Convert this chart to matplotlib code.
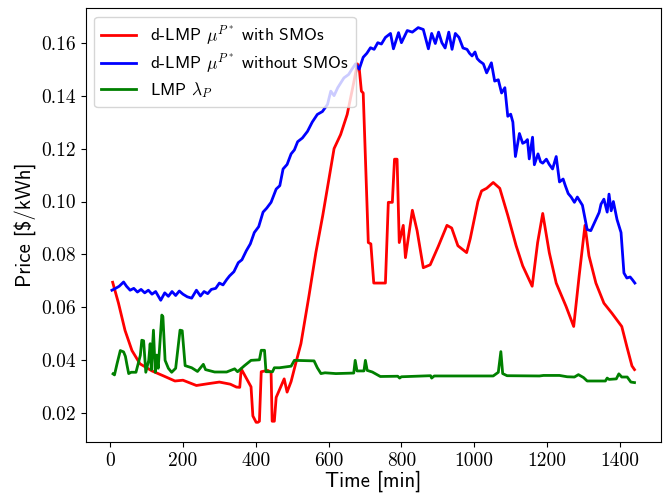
import numpy as np
import matplotlib
matplotlib.use("Agg")
from matplotlib import pyplot as plt

plt.rcParams['font.family'] = ['cmss10', 'DejaVu Sans']
plt.rcParams['mathtext.fontset'] = 'cm'
plt.rcParams['axes.unicode_minus'] = False

# d-LMP with SMOs (red)
t_smo = [7, 23, 41, 60, 82, 115, 147, 178, 200, 237, 270, 300, 330, 347, 356,
         360, 387, 392, 401, 406, 410, 415, 433, 442, 445, 451, 456, 478, 486,
         497, 510, 524, 546, 565, 584, 601, 615, 633, 651, 666, 679, 684, 690,
         695, 709, 716, 724, 756, 764, 775, 781, 788, 794, 805, 811, 830, 843,
         860, 879, 901, 925, 938, 955, 979, 989, 1010, 1020, 1034, 1052, 1070,
         1092, 1115, 1133, 1159, 1174, 1188, 1206, 1225, 1252, 1273, 1288, 1304,
         1315, 1334, 1356, 1378, 1405, 1419, 1433, 1440]
p_smo = [0.0695, 0.0616, 0.0513, 0.0437, 0.0387, 0.0360, 0.0341, 0.0322, 0.0325,
         0.0305, 0.0312, 0.0318, 0.0310, 0.0299, 0.0298, 0.0368, 0.0300, 0.0190,
         0.0166, 0.0166, 0.0170, 0.0357, 0.0362, 0.0355, 0.0170, 0.0170, 0.0260,
         0.0330, 0.0280, 0.0320, 0.0390, 0.0463, 0.0643, 0.0807, 0.0948, 0.1086,
         0.1200, 0.1253, 0.1329, 0.1429, 0.1520, 0.1505, 0.1417, 0.1410, 0.0845,
         0.0840, 0.0692, 0.0692, 0.0997, 0.0997, 0.1160, 0.1160, 0.0845, 0.0910,
         0.0788, 0.0967, 0.0890, 0.0750, 0.0761, 0.0830, 0.0910, 0.0900, 0.0833,
         0.0807, 0.0860, 0.1000, 0.1040, 0.1050, 0.1072, 0.1050, 0.0948, 0.0833,
         0.0757, 0.0680, 0.0845, 0.0955, 0.0807, 0.0692, 0.0604, 0.0528, 0.0719,
         0.0910, 0.0795, 0.0692, 0.0616, 0.0578, 0.0528, 0.0452, 0.0379, 0.0365]

# d-LMP without SMOs (blue)
t_no = [5, 15, 25, 37, 45, 55, 65, 75, 85, 95, 105, 115, 125, 139, 150, 160, 170,
        180, 190, 200, 212, 224, 237, 248, 258, 268, 278, 290, 300, 310, 320, 328,
        340, 352, 362, 374, 385, 396, 408, 420, 430, 442, 456, 466, 475, 486, 497,
        506, 515, 528, 542, 555, 569, 583, 597, 606, 615, 625, 642, 655, 664, 674,
        684, 695, 705, 715, 725, 735, 745, 756, 770, 778, 792, 800, 816, 830, 846,
        860, 874, 883, 893, 902, 911, 920, 930, 939, 948, 958, 969, 980, 987, 994,
        1002, 1008, 1015, 1025, 1034, 1047, 1056, 1066, 1075, 1084, 1092, 1100,
        1106, 1113, 1118, 1124, 1133, 1140, 1146, 1151, 1160, 1165, 1175, 1182,
        1188, 1198, 1206, 1215, 1225, 1234, 1244, 1250, 1258, 1266, 1275, 1283,
        1297, 1310, 1320, 1330, 1343, 1348, 1356, 1365, 1370, 1376, 1382, 1392,
        1403, 1411, 1419, 1428, 1434, 1441]
p_no = [0.0665, 0.0672, 0.0680, 0.0696, 0.0680, 0.0665, 0.0672, 0.0658, 0.0668,
        0.0655, 0.0665, 0.0650, 0.0660, 0.0627, 0.0655, 0.0642, 0.0660, 0.0645,
        0.0662, 0.0650, 0.0640, 0.0635, 0.0665, 0.0643, 0.0660, 0.0652, 0.0668,
        0.0672, 0.0692, 0.0685, 0.0705, 0.0719, 0.0735, 0.0769, 0.0780, 0.0814,
        0.0840, 0.0883, 0.0905, 0.0960, 0.0975, 0.0997, 0.1047, 0.1060, 0.1123,
        0.1140, 0.1180, 0.1195, 0.1226, 0.1240, 0.1265, 0.1300, 0.1329, 0.1340,
        0.1367, 0.1417, 0.1400, 0.1430, 0.1467, 0.1480, 0.1500, 0.1520, 0.1500,
        0.1545, 0.1560, 0.1581, 0.1575, 0.1600, 0.1595, 0.1620, 0.1635, 0.1577,
        0.1638, 0.1600, 0.1646, 0.1640, 0.1657, 0.1650, 0.1577, 0.1635, 0.1597,
        0.1640, 0.1600, 0.1580, 0.1640, 0.1575, 0.1635, 0.1620, 0.1580, 0.1575,
        0.1560, 0.1550, 0.1565, 0.1540, 0.1530, 0.1520, 0.1486, 0.1524, 0.1455,
        0.1460, 0.1410, 0.1430, 0.1322, 0.1330, 0.1300, 0.1170, 0.1210, 0.1257,
        0.1220, 0.1225, 0.1234, 0.1161, 0.1243, 0.1139, 0.1180, 0.1150, 0.1145,
        0.1160, 0.1140, 0.1123, 0.1170, 0.1074, 0.1085, 0.1060, 0.1030, 0.1017,
        0.0997, 0.1017, 0.0986, 0.0894, 0.0890, 0.0920, 0.0959, 0.0990, 0.1009,
        0.0960, 0.1028, 0.0965, 0.1000, 0.0932, 0.0883, 0.0730, 0.0711, 0.0715,
        0.0705, 0.0692]

# LMP (green)
t_lmp = [8, 12, 19, 28, 37, 42, 46, 51, 58, 71, 83, 87, 92, 98, 106, 110, 113,
         119, 124, 128, 132, 142, 145, 151, 160, 169, 180, 192, 198, 206, 224,
         240, 256, 262, 287, 320, 342, 350, 369, 387, 410, 415, 424, 428, 446,
         451, 465, 497, 506, 560, 569, 579, 590, 620, 669, 673, 678, 697, 701,
         706, 720, 742, 790, 795, 800, 880, 883, 890, 1000, 1052, 1066, 1073,
         1078, 1090, 1179, 1190, 1234, 1255, 1275, 1286, 1300, 1310, 1360, 1365,
         1370, 1390, 1397, 1405, 1420, 1430, 1440]
p_lmp = [0.0349, 0.0345, 0.0387, 0.0437, 0.0432, 0.0415, 0.0385, 0.0350, 0.0355,
         0.0355, 0.0419, 0.0476, 0.0474, 0.0355, 0.0400, 0.0463, 0.0365, 0.0514,
         0.0355, 0.0420, 0.0370, 0.0571, 0.0565, 0.0400, 0.0370, 0.0355, 0.0370,
         0.0514, 0.0512, 0.0380, 0.0372, 0.0358, 0.0385, 0.0365, 0.0356, 0.0356,
         0.0368, 0.0357, 0.0380, 0.0400, 0.0402, 0.0438, 0.0438, 0.0357, 0.0357,
         0.0372, 0.0372, 0.0378, 0.0400, 0.0398, 0.0372, 0.0350, 0.0353, 0.0350,
         0.0352, 0.0400, 0.0360, 0.0360, 0.0400, 0.0362, 0.0356, 0.0339, 0.0340,
         0.0333, 0.0338, 0.0342, 0.0333, 0.0341, 0.0341, 0.0341, 0.0355, 0.0433,
         0.0350, 0.0342, 0.0341, 0.0343, 0.0343, 0.0338, 0.0337, 0.0346, 0.0335,
         0.0322, 0.0322, 0.0333, 0.0328, 0.0330, 0.0349, 0.0337, 0.0337, 0.0318,
         0.0316]

labels = [r'd-LMP $\mu^{P^*}$ with SMOs',
          r'd-LMP $\mu^{P^*}$ without SMOs',
          r'LMP $\lambda_P$']

fig = plt.figure(figsize=(6.65, 4.93), dpi=100)
ax = fig.add_axes([0.129, 0.1034, 0.865, 0.8806])

ax.plot(t_smo, p_smo, color='r', lw=2, label=labels[0])
ax.plot(t_no, p_no, color='b', lw=2, label=labels[1])
ax.plot(t_lmp, p_lmp, color='g', lw=2, label=labels[2])

ax.set_xticks(np.arange(0, 1401, 200))
ax.set_yticks(np.arange(0.02, 0.161, 0.02))
ax.set_yticklabels(['%.2f' % v for v in np.arange(0.02, 0.161, 0.02)])
for lab in ax.get_xticklabels() + ax.get_yticklabels():
    lab.set_fontfamily('cmr10')
    lab.set_fontsize(14)

ax.set_xlabel('Time [min]', fontsize=15, labelpad=1)
ax.set_ylabel('Price [\\$/kWh]', fontsize=15)
ax.legend(loc='upper left', fontsize=12.5, labelspacing=0.25)

fig.savefig('out.png', dpi=100)
